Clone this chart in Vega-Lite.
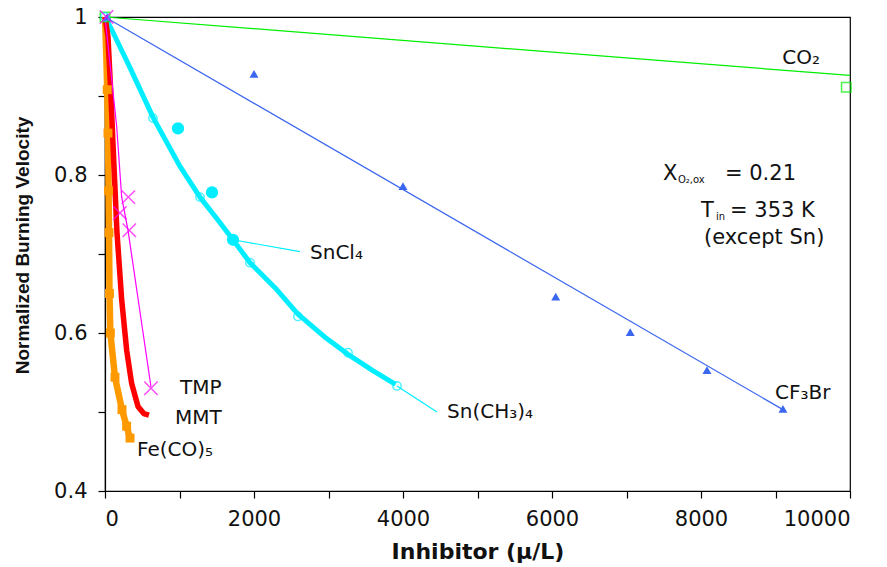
{
  "$schema": "https://vega.github.io/schema/vega-lite/v6.json",
  "width": 745,
  "height": 474,
  "autosize": {"type": "none"},
  "padding": {"left": 105, "top": 17, "right": 37, "bottom": 76},
  "background": "white",
  "config": {
    "view": {"stroke": "black", "strokeWidth": 1.2},
    "axis": {"grid": false, "domainColor": "black", "domainWidth": 1.2, "tickColor": "black", "tickWidth": 1.2, "tickSize": 7, "labelFont": "DejaVu Sans", "labelFontSize": 21, "labelColor": "#111", "titleFont": "DejaVu Sans", "titleFontSize": 22, "titleFontWeight": "bold", "titleColor": "#111"},
    "text": {"font": "DejaVu Sans", "color": "#111"}
  },
  "datasets": {
    "lines": [
      {"s": "CO2", "x": 0, "y": 1.0}, {"s": "CO2", "x": 10000, "y": 0.926},
      {"s": "CF3Br", "x": 0, "y": 1.0}, {"s": "CF3Br", "x": 9100, "y": 0.503},
      {"s": "SnCH", "x": 0, "y": 1.0}, {"s": "SnCH", "x": 100, "y": 0.982}, {"s": "SnCH", "x": 335, "y": 0.936}, {"s": "SnCH", "x": 650, "y": 0.872}, {"s": "SnCH", "x": 1000, "y": 0.812}, {"s": "SnCH", "x": 1275, "y": 0.772}, {"s": "SnCH", "x": 1500, "y": 0.745}, {"s": "SnCH", "x": 1718, "y": 0.718}, {"s": "SnCH", "x": 1946, "y": 0.689}, {"s": "SnCH", "x": 2305, "y": 0.655}, {"s": "SnCH", "x": 2590, "y": 0.624}, {"s": "SnCH", "x": 2975, "y": 0.593}, {"s": "SnCH", "x": 3262, "y": 0.573}, {"s": "SnCH", "x": 3600, "y": 0.552}, {"s": "SnCH", "x": 3900, "y": 0.535},
      {"s": "Fe", "x": 0, "y": 1.0}, {"s": "Fe", "x": 18, "y": 0.95}, {"s": "Fe", "x": 30, "y": 0.908}, {"s": "Fe", "x": 40, "y": 0.853}, {"s": "Fe", "x": 48, "y": 0.78}, {"s": "Fe", "x": 54, "y": 0.727}, {"s": "Fe", "x": 60, "y": 0.65}, {"s": "Fe", "x": 72, "y": 0.6}, {"s": "Fe", "x": 134, "y": 0.544}, {"s": "Fe", "x": 228, "y": 0.503}, {"s": "Fe", "x": 290, "y": 0.482}, {"s": "Fe", "x": 336, "y": 0.467},
      {"s": "MMT", "x": 0, "y": 1.0}, {"s": "MMT", "x": 40, "y": 0.975}, {"s": "MMT", "x": 80, "y": 0.9}, {"s": "MMT", "x": 121, "y": 0.81}, {"s": "MMT", "x": 161, "y": 0.727}, {"s": "MMT", "x": 224, "y": 0.642}, {"s": "MMT", "x": 291, "y": 0.578}, {"s": "MMT", "x": 358, "y": 0.536}, {"s": "MMT", "x": 443, "y": 0.507}, {"s": "MMT", "x": 520, "y": 0.498}, {"s": "MMT", "x": 590, "y": 0.496},
      {"s": "TMP", "x": 0, "y": 1.0}, {"s": "TMP", "x": 80, "y": 0.93}, {"s": "TMP", "x": 157, "y": 0.861}, {"s": "TMP", "x": 224, "y": 0.772}, {"s": "TMP", "x": 309, "y": 0.73}, {"s": "TMP", "x": 617, "y": 0.532}
    ],
    "leaders": [
      {"g": "SnCl4", "x": 1718, "y": 0.718}, {"g": "SnCl4", "x": 2617, "y": 0.703},
      {"g": "SnCH", "x": 3919, "y": 0.533}, {"g": "SnCH", "x": 4456, "y": 0.5}
    ],
    "pts": [
      {"s": "CO2", "x": 0, "y": 1.0}, {"s": "CO2", "x": 9950, "y": 0.911},
      {"s": "CF3Br", "x": 30, "y": 1.0}, {"s": "CF3Br", "x": 2000, "y": 0.928}, {"s": "CF3Br", "x": 4000, "y": 0.786}, {"s": "CF3Br", "x": 6050, "y": 0.646}, {"s": "CF3Br", "x": 7050, "y": 0.601}, {"s": "CF3Br", "x": 8080, "y": 0.553}, {"s": "CF3Br", "x": 9100, "y": 0.504},
      {"s": "SnCH", "x": 0, "y": 1.0}, {"s": "SnCH", "x": 644, "y": 0.872}, {"s": "SnCH", "x": 1275, "y": 0.772}, {"s": "SnCH", "x": 1946, "y": 0.689}, {"s": "SnCH", "x": 2590, "y": 0.621}, {"s": "SnCH", "x": 3262, "y": 0.575}, {"s": "SnCH", "x": 3919, "y": 0.533},
      {"s": "SnCl4", "x": 980, "y": 0.859}, {"s": "SnCl4", "x": 1436, "y": 0.778}, {"s": "SnCl4", "x": 1718, "y": 0.718},
      {"s": "TMP", "x": 20, "y": 1.0}, {"s": "TMP", "x": 201, "y": 0.752}, {"s": "TMP", "x": 313, "y": 0.772}, {"s": "TMP", "x": 326, "y": 0.73}, {"s": "TMP", "x": 617, "y": 0.53},
      {"s": "Fe", "x": 30, "y": 0.908}, {"s": "Fe", "x": 40, "y": 0.853}, {"s": "Fe", "x": 48, "y": 0.78}, {"s": "Fe", "x": 54, "y": 0.727}, {"s": "Fe", "x": 60, "y": 0.65}, {"s": "Fe", "x": 72, "y": 0.6}, {"s": "Fe", "x": 134, "y": 0.544}, {"s": "Fe", "x": 228, "y": 0.503}, {"s": "Fe", "x": 290, "y": 0.482}, {"s": "Fe", "x": 336, "y": 0.467}
    ],
    "labels": [
      {"t": "CO₂", "x": 9090, "y": 0.948},
      {"t": "CF₃Br", "x": 8993, "y": 0.524},
      {"t": "SnCl₄", "x": 2752, "y": 0.701},
      {"t": "Sn(CH₃)₄", "x": 4591, "y": 0.5},
      {"t": "TMP", "x": 1007, "y": 0.53},
      {"t": "MMT", "x": 940, "y": 0.492},
      {"t": "Fe(CO)₅", "x": 430, "y": 0.452}
    ],
    "notes": [
      {"t": "X", "x": 7490, "y": 0.8013},
      {"t": "= 0.21", "x": 8322, "y": 0.8013},
      {"t": "T", "x": 8000, "y": 0.754},
      {"t": "= 353 K", "x": 8390, "y": 0.754},
      {"t": "(except Sn)", "x": 8040, "y": 0.72}
    ],
    "subs": [
      {"t": "O₂,ox", "x": 7691, "y": 0.794},
      {"t": "in", "x": 8200, "y": 0.747}
    ]
  },
  "encoding": {
    "x": {"field": "x", "type": "quantitative", "scale": {"domain": [0, 10000], "nice": false, "zero": false},
      "axis": {"title": "Inhibitor (μ/L)", "values": [0, 1000, 2000, 3000, 4000, 5000, 6000, 7000, 8000, 9000, 10000], "labelExpr": "datum.value % 2000 == 0 ? format(datum.value, 'd') : ''", "labelPadding": 10, "titlePadding": 12}},
    "y": {"field": "y", "type": "quantitative", "scale": {"domain": [0.4, 1], "nice": false, "zero": false},
      "axis": {"title": "Normalized Burning Velocity", "titleFont": "Liberation Sans", "titleFontSize": 19, "titleX": -83, "titleY": 228, "titleAlign": "center", "titleBaseline": "middle", "values": [0.4, 0.5, 0.6, 0.7, 0.8, 0.9, 1], "labelExpr": "datum.value == 0.4 || datum.value == 0.6 || datum.value == 0.8 || datum.value == 1 ? format(datum.value, '~g') : ''", "labelPadding": 11}}
  },
  "layer": [
    {"data": {"name": "lines"}, "transform": [{"filter": "datum.s == 'CO2'"}], "mark": {"type": "line", "color": "#00ee00", "strokeWidth": 1.2}},
    {"data": {"name": "lines"}, "transform": [{"filter": "datum.s == 'CF3Br'"}], "mark": {"type": "line", "color": "#3a66f0", "strokeWidth": 1.2}},
    {"data": {"name": "lines"}, "transform": [{"filter": "datum.s == 'SnCH'"}], "mark": {"type": "line", "color": "#00eeff", "strokeWidth": 5, "strokeJoin": "round"}},
    {"data": {"name": "leaders"}, "mark": {"type": "line", "color": "#00eeff", "strokeWidth": 1.2}, "encoding": {"detail": {"field": "g"}}},
    {"data": {"name": "lines"}, "transform": [{"filter": "datum.s == 'Fe'"}], "mark": {"type": "line", "color": "#ff9900", "strokeWidth": 6.5, "strokeJoin": "round"}},
    {"data": {"name": "lines"}, "transform": [{"filter": "datum.s == 'MMT'"}], "mark": {"type": "line", "color": "#ff0000", "strokeWidth": 5.5, "strokeJoin": "round"}},
    {"data": {"name": "lines"}, "transform": [{"filter": "datum.s == 'TMP'"}], "mark": {"type": "line", "color": "#ff00ff", "strokeWidth": 1.2}},
    {"data": {"name": "pts"}, "transform": [{"filter": "datum.s == 'CO2'"}], "mark": {"type": "point", "shape": "square", "filled": false, "color": "#00ee00", "size": 90, "strokeWidth": 1.5}},
    {"data": {"name": "pts"}, "transform": [{"filter": "datum.s == 'CF3Br'"}], "mark": {"type": "point", "shape": "triangle-up", "filled": true, "color": "#3a66f0", "size": 80, "opacity": 1}},
    {"data": {"name": "pts"}, "transform": [{"filter": "datum.s == 'SnCH'"}], "mark": {"type": "point", "shape": "circle", "filled": false, "color": "#00eeff", "size": 70, "strokeWidth": 1.5}},
    {"data": {"name": "pts"}, "transform": [{"filter": "datum.s == 'SnCl4'"}], "mark": {"type": "point", "shape": "circle", "filled": true, "color": "#00eeff", "size": 150, "opacity": 1}},
    {"data": {"name": "pts"}, "transform": [{"filter": "datum.s == 'Fe'"}], "mark": {"type": "point", "shape": "square", "filled": true, "color": "#ff9900", "size": 80, "opacity": 1}},
    {"data": {"name": "pts"}, "transform": [{"filter": "datum.s == 'TMP'"}], "mark": {"type": "point", "shape": "M-1,-1L1,1M-1,1L1,-1", "filled": false, "color": "#ff00ff", "size": 180, "strokeWidth": 1.5}},
    {"data": {"name": "labels"}, "mark": {"type": "text", "align": "left", "baseline": "middle", "fontSize": 20}, "encoding": {"text": {"field": "t"}}},
    {"data": {"name": "notes"}, "mark": {"type": "text", "align": "left", "baseline": "middle", "fontSize": 21}, "encoding": {"text": {"field": "t"}}},
    {"data": {"name": "subs"}, "mark": {"type": "text", "align": "left", "baseline": "middle", "fontSize": 10}, "encoding": {"text": {"field": "t"}}}
  ]
}
